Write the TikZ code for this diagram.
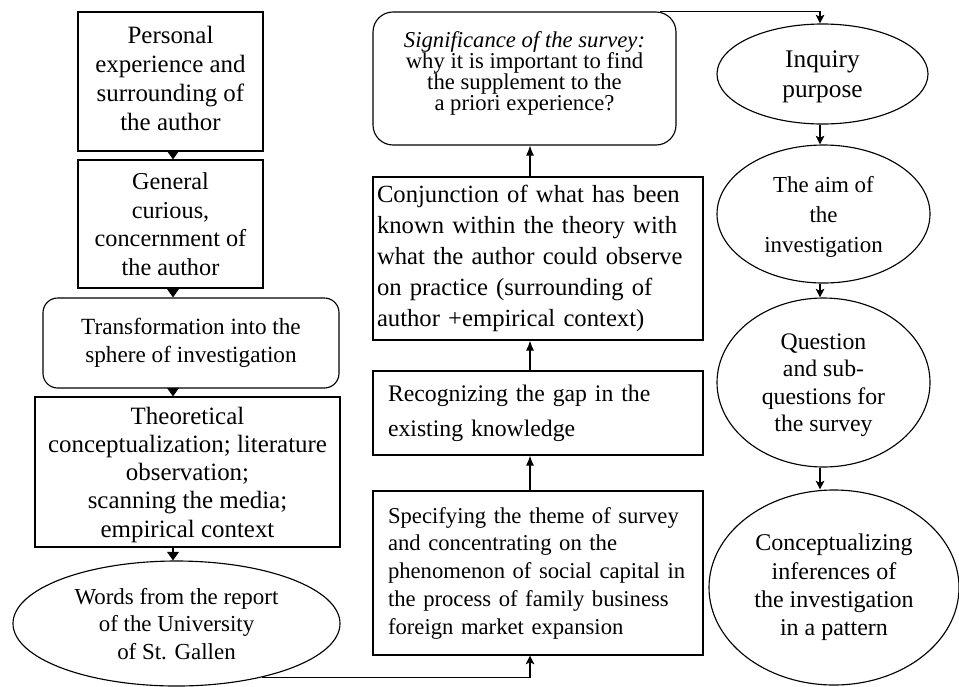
\documentclass[tikz,border=0pt]{standalone}
\usepackage{fontspec}
\setmainfont{Liberation Serif}
\usetikzlibrary{shapes.geometric,arrows.meta}
\begin{document}
\setlength{\lineskiplimit}{-8pt}%
\begin{tikzpicture}[x=0.75pt,y=-0.75pt,
  dims/.style 2 args={minimum width=#1*0.75pt,minimum height=#2*0.75pt},
  fs/.style 2 args={font=\fontsize{#1}{#2}\selectfont},
  sbox/.style={draw, rectangle, line width=0.85pt, inner sep=0pt, align=center},
  rbox/.style={draw, rectangle, rounded corners=#1, line width=0.85pt, inner sep=0pt, align=center},
  lbox/.style={draw, rectangle, line width=0.85pt, inner sep=0pt, align=left, text width=#1*0.75pt},
  oval/.style={draw, ellipse, line width=0.85pt, inner sep=-30pt, align=center},
  tri/.style={-{Triangle[width=9pt,length=6.5pt]}, line width=0.85pt},
  marr/.style={-{Latex[width=6pt,length=7.5pt]}, line width=0.85pt},
  rarr/.style={-{Stealth[width=6.5pt,length=6.5pt,inset=1.5pt]}, line width=0.85pt}]
\useasboundingbox (0,0) rectangle (959,686);

% left column
\node[sbox, dims={185}{139}, fs={18.7}{21.75}, text depth=4.5pt] (p1) at (170.5,81.5)
  {Personal\\experience and\\surrounding of\\the author};
\node[sbox, dims={185}{128}, fs={18.2}{21.4}] (p2) at (170.5,224)
  {General\\curious,\\concernment of\\the author};
\node[rbox=11pt, dims={296}{90}, fs={17.4}{21}] (p3) at (191,343)
  {Transformation into the\\sphere of investigation};
\node[sbox, dims={305}{150}, fs={18.7}{21.2}, text depth=-6.4pt] (p4) at (187.5,472)
  {Theoretical\\conceptualization; literature\\observation;\\scanning the media;\\empirical context};
\node[oval, dims={327}{125}, fs={17.2}{20.6}, text depth=-7.5pt] (w) at (176.5,623.5)
  {Words from the report\\of the University\\of St. Gallen};

% middle column
\node[rbox=15pt, dims={303}{133}, fs={17}{15.75}, text depth=10.5pt] (sig) at (524.5,78.5)
  {\textit{Significance of the survey:}\\why it is important to find\\the supplement to the\\a priori experience?};
\node[lbox=322, dims={330}{163}, fs={18.5}{23.25}] (conj) at (538,258.5)
  {Conjunction of what has been\\known within the theory with\\what the author could observe\\on practice (surrounding of\\author +empirical context)};
\node[lbox=300, dims={330}{84}, fs={17.8}{26}] (rec) at (538,413)
  {Recognizing the gap in the\\existing knowledge};
\node[lbox=300, dims={330}{164}, fs={17}{20.8}] (spec) at (538,573)
  {Specifying the theme of survey\\and concentrating on the\\phenomenon of social capital in\\the process of family business\\foreign market expansion};

% right column
\node[oval, dims={211}{100}, fs={19}{22.5}, text depth=-3.4pt] (inq) at (822.5,74)
  {Inquiry\\purpose};
\node[oval, dims={213}{138}, fs={17.2}{22.5}, text depth=-2.3pt] (aim) at (823.5,214)
  {The aim of\\the\\investigation};
\node[oval, dims={213}{169}, fs={17.8}{20.5}, text depth=-0.6pt] (q) at (823.5,382.5)
  {Question\\and sub-\\questions for\\the survey};
\node[oval, dims={250}{195}, fs={18}{21.25}] (c) at (834,587.5)
  {Conceptualizing\\inferences of\\the investigation\\in a pattern};

% connector columns
\coordinate (ax) at (173,0);
\coordinate (mx) at (530,0);
\coordinate (rx) at (820,0);
\coordinate (tx) at (660,0);

\draw[tri] (p1.south -| ax) -- (p2.north -| ax);
\draw[tri] (p2.south -| ax) -- (p3.north -| ax);
\draw[tri] (p3.south -| ax) -- (p4.north -| ax);
\draw[tri] (p4.south -| ax) -- (w.north -| ax);

\draw[rarr] (w.-32.5) -| (spec.south -| mx);
\draw[marr] (spec.north -| mx) -- (rec.south -| mx);
\draw[marr] (rec.north -| mx) -- (conj.south -| mx);
\draw[marr] (conj.north -| mx) -- (sig.south -| mx);

\draw[rarr] (sig.north -| tx) -| (inq.north -| rx);
\draw[rarr] (inq.south -| rx) -- (aim.north -| rx);
\draw[rarr] (aim.south -| rx) -- (q.north -| rx);
\draw[rarr] (q.south -| rx) -- (c.north -| rx);
\end{tikzpicture}
\end{document}
